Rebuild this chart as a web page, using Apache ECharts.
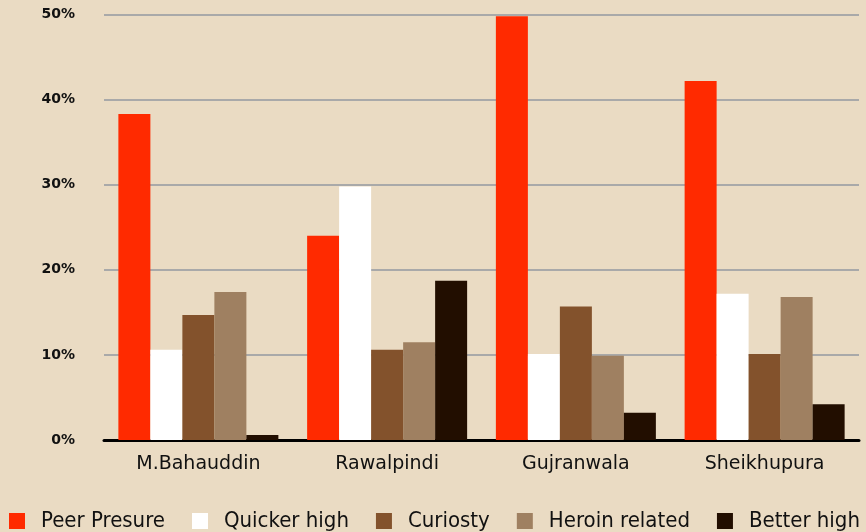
<!DOCTYPE html>
<html>
<head>
<meta charset="utf-8">
<script src="https://cdn.jsdelivr.net/npm/echarts@6/dist/echarts.min.js"></script>
<style>
  html, body { margin: 0; padding: 0; background: #eadbc3; }
  #chart { width: 866px; height: 532px; }
</style>
</head>
<body>
<div id="chart"></div>
<script>
// categories and values (percent)
const cities = ['M.Bahauddin', 'Rawalpindi', 'Gujranwala', 'Sheikhupura']
const peerPressure = [38.3, 24.0, 49.8, 42.2]
const quickerHigh = [10.6, 29.8, 10.1, 17.2]
const curiosity = [14.7, 10.6, 15.7, 10.1]
const heroinRelated = [17.4, 11.5, 9.9, 16.8]
const betterHigh = [0.6, 18.7, 3.2, 4.2]

const seriesNames = ['Peer Presure', 'Quicker high', 'Curiosty', 'Heroin related', 'Better high']
const seriesColors = ['#ff2a00', '#ffffff', '#83522c', '#9f8061', '#220e00']
const seriesData = [peerPressure, quickerHigh, curiosity, heroinRelated, betterHigh]

const chart = echarts.init(document.getElementById('chart'))

const option = {
  backgroundColor: '#eadbc3',
  animation: false,
  grid: {
    left: 104,
    right: 7,
    top: 14.5,
    bottom: 92
  },
  legend: {
    top: 505,
    left: 4,
    itemWidth: 16,
    itemHeight: 16,
    itemGap: 27,
    icon: 'rect',
    textStyle: {
      fontFamily: 'DejaVu Sans Condensed',
      fontSize: 22,
      color: '#111',
      padding: [0, 0, 0, 11]
    },
    data: seriesNames
  },
  xAxis: {
    type: 'category',
    data: cities,
    axisLine: { lineStyle: { color: '#000', width: 3 } },
    axisTick: { show: false },
    axisLabel: {
      fontFamily: 'DejaVu Sans',
      fontSize: 19,
      color: '#111',
      margin: 15
    }
  },
  yAxis: {
    type: 'value',
    min: 0,
    max: 50,
    interval: 10,
    axisLine: { show: false },
    axisTick: { show: false },
    splitLine: { lineStyle: { color: '#a9a9a9', width: 2 } },
    axisLabel: {
      formatter: '{value}%',
      fontFamily: 'DejaVu Sans',
      fontWeight: 'bold',
      fontSize: 14,
      color: '#111',
      margin: 29
    }
  },
  series: seriesNames.map((name, i) => ({
    name: name,
    type: 'bar',
    data: seriesData[i],
    barWidth: 32,
    barGap: '0%',
    itemStyle: { color: seriesColors[i] }
  }))
}

chart.setOption(option)
</script>
</body>
</html>
